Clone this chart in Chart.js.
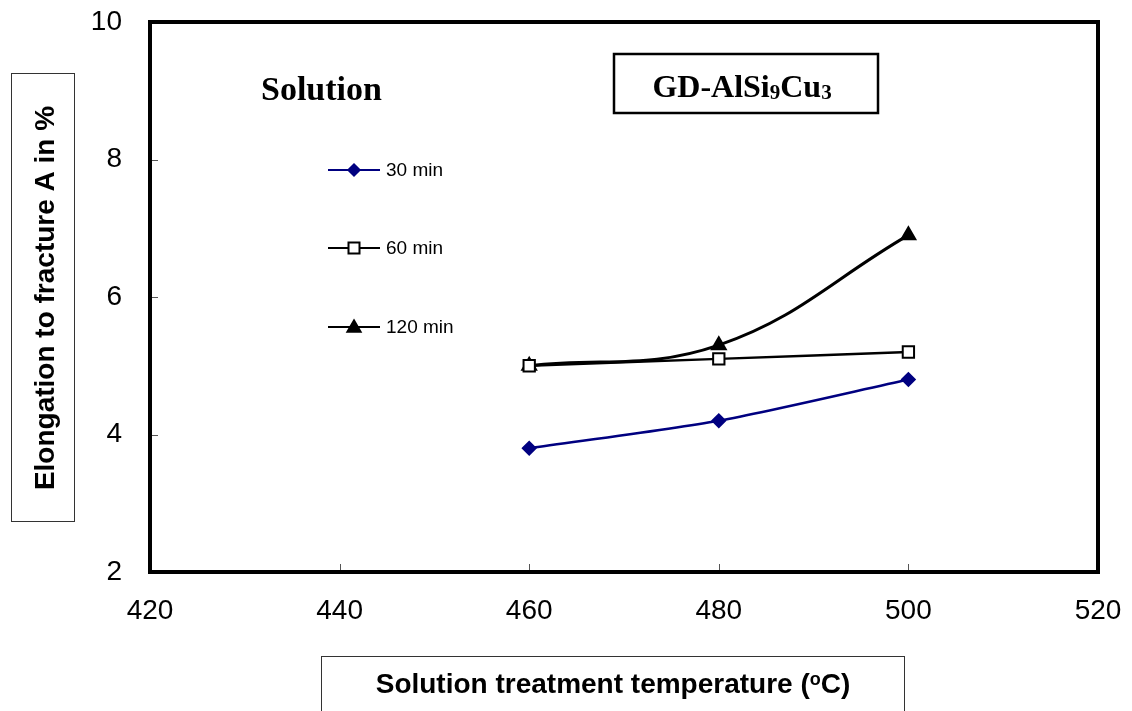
<!DOCTYPE html>
<html>
<head>
<meta charset="utf-8">
<script src="https://cdn.jsdelivr.net/npm/chart.js@4"></script>
<style>
html,body{margin:0;padding:0;background:#fff;}
canvas{display:block;}
</style>
</head>
<body>
<canvas id="c" width="1132" height="711"></canvas>
<script>
const temperatures = [460, 480, 500];
const elong30 = [3.8, 4.2, 4.8];
const elong60 = [5.0, 5.1, 5.2];
const elong120 = [5.0, 5.3, 6.9];
const xTicks = [420, 440, 460, 480, 500, 520];
const yTicks = [2, 4, 6, 8, 10];
const seriesNames = ['30 min', '60 min', '120 min'];

function pts(vals){ return temperatures.map((t,i)=>({x:t,y:vals[i]})); }

const SANS = 'Arial, "Liberation Sans", sans-serif';
const SERIF = '"Times New Roman", "Liberation Serif", serif';

const decor = {
  id:'decor',
  afterDraw(chart){
    const ctx = chart.ctx;
    const a = chart.chartArea;
    const xs = chart.scales.x, ys = chart.scales.y;
    ctx.save();
    // inner ticks
    ctx.strokeStyle = '#555';
    ctx.lineWidth = 1;
    xTicks.forEach(v=>{
      const px = Math.round(xs.getPixelForValue(v))+0.5;
      ctx.beginPath(); ctx.moveTo(px, a.bottom); ctx.lineTo(px, a.bottom-8); ctx.stroke();
    });
    yTicks.forEach(v=>{
      const py = Math.round(ys.getPixelForValue(v))+0.5;
      ctx.beginPath(); ctx.moveTo(a.left, py); ctx.lineTo(a.left+8, py); ctx.stroke();
    });
    // frame
    ctx.strokeStyle = '#000';
    ctx.lineWidth = 4;
    ctx.strokeRect(a.left, a.top, a.right-a.left, a.bottom-a.top);

    // legend
    const legY = [170, 248, 327];
    const ds = chart.data.datasets;
    ds.forEach((d,i)=>{
      const y = legY[i];
      ctx.strokeStyle = d.borderColor;
      ctx.lineWidth = 2;
      ctx.beginPath(); ctx.moveTo(328, y); ctx.lineTo(380, y); ctx.stroke();
      ctx.fillStyle = d.pointBackgroundColor;
      ctx.strokeStyle = d.pointBorderColor;
      ctx.lineWidth = 1.5;
      const cx = 354;
      if (d.pointStyle === 'rectRot') {
        ctx.beginPath(); ctx.moveTo(cx, y-6); ctx.lineTo(cx+6, y); ctx.lineTo(cx, y+6); ctx.lineTo(cx-6, y); ctx.closePath(); ctx.fill(); ctx.stroke();
      } else if (d.pointStyle === 'rect') {
        ctx.lineWidth = 2;
        ctx.beginPath(); ctx.rect(cx-5.5, y-5.5, 11, 11); ctx.fill(); ctx.stroke();
      } else {
        ctx.beginPath(); ctx.moveTo(cx, y-7); ctx.lineTo(cx+7, y+5); ctx.lineTo(cx-7, y+5); ctx.closePath(); ctx.fill(); ctx.stroke();
      }
      ctx.fillStyle = '#000';
      ctx.font = '19px ' + SANS;
      ctx.textBaseline = 'middle';
      ctx.textAlign = 'left';
      ctx.fillText(seriesNames[i], 386, y+1);
    });

    // "Solution"
    ctx.fillStyle = '#000';
    ctx.font = 'bold 34px ' + SERIF;
    ctx.textBaseline = 'alphabetic';
    ctx.textAlign = 'left';
    ctx.fillText('Solution', 261, 100);

    // GD-AlSi9Cu3 box
    ctx.lineWidth = 2.5;
    ctx.strokeStyle = '#000';
    ctx.strokeRect(614, 54, 264, 59);
    const big = 'bold 32px ' + SERIF;
    const small = 'bold 21px ' + SERIF;
    const parts = [['GD-AlSi', big, 0], ['9', small, 2], ['Cu', big, 0], ['3', small, 2]];
    let total = 0;
    parts.forEach(p=>{ ctx.font = p[1]; total += ctx.measureText(p[0]).width; });
    let x0 = 742 - total/2;
    parts.forEach(p=>{ ctx.font = p[1]; ctx.fillText(p[0], x0, 97 + p[2]); x0 += ctx.measureText(p[0]).width; });

    // Y title box
    ctx.lineWidth = 1;
    ctx.strokeStyle = '#333';
    ctx.strokeRect(11.5, 73.5, 63, 448);
    ctx.save();
    ctx.translate(46, 298);
    ctx.rotate(-Math.PI/2);
    ctx.font = 'bold 28px ' + SANS;
    ctx.textAlign = 'center';
    ctx.textBaseline = 'middle';
    ctx.fillText('Elongation to fracture A in %', 0, 0);
    ctx.restore();

    // X title box
    ctx.strokeRect(321.5, 656.5, 583, 60);
    const t1 = 'Solution treatment temperature (', t2 = 'o', t3 = 'C)';
    const fb = 'bold 28px ' + SANS, fs = 'bold 18px ' + SANS;
    ctx.font = fb;
    const w1 = ctx.measureText(t1).width, w3 = ctx.measureText(t3).width;
    ctx.font = fs;
    const w2 = ctx.measureText(t2).width;
    let sx = 613 - (w1+w2+w3)/2;
    ctx.textAlign = 'left';
    ctx.textBaseline = 'alphabetic';
    ctx.font = fb; ctx.fillText(t1, sx, 693); sx += w1;
    ctx.font = fs; ctx.fillText(t2, sx, 685); sx += w2;
    ctx.font = fb; ctx.fillText(t3, sx, 693);
    ctx.restore();
  }
};

new Chart(document.getElementById('c'), {
  type: 'line',
  data: {
    datasets: [
      { label: seriesNames[0], data: pts(elong30), borderColor: '#000080', backgroundColor:'#000080',
        pointBackgroundColor: '#000080', pointBorderColor: '#000080', pointStyle: 'rectRot', pointRadius: 6,
        borderWidth: 2.5, tension: 0.25 },
      { label: seriesNames[1], data: pts(elong60), borderColor: '#000', backgroundColor:'#fff',
        pointBackgroundColor: '#fff', pointBorderColor: '#000', pointStyle: 'rect', pointRadius: 8, pointBorderWidth: 2,
        borderWidth: 2.5, tension: 0.2 },
      { label: seriesNames[2], data: pts(elong120), borderColor: '#000', backgroundColor:'#000',
        pointBackgroundColor: '#000', pointBorderColor: '#000', pointStyle: 'triangle', pointRadius: 7,
        borderWidth: 3, tension: 0.4 }
    ]
  },
  options: {
    responsive: false,
    animation: false,
    layout: { padding: { left: 0, top: 22, right: 34, bottom: 0 } },
    plugins: { legend: { display: false }, tooltip: { enabled: false } },
    scales: {
      x: {
        type: 'linear', min: 420, max: 520,
        afterBuildTicks(s){ s.ticks = xTicks.map(v=>({value:v})); },
        afterFit(s){ s.height = 139; s.paddingLeft = 0; s.paddingRight = 0; },
        grid: { display: false, drawTicks: false },
        border: { display: false },
        ticks: { color:'#000', padding: 22, maxRotation: 0, font: { family: SANS, size: 28 } }
      },
      y: {
        type: 'linear', min: 2, max: 10,
        afterBuildTicks(s){ s.ticks = yTicks.map(v=>({value:v})); },
        afterFit(s){ s.width = 150; s.paddingTop = 0; s.paddingBottom = 0; },
        grid: { display: false, drawTicks: false },
        border: { display: false },
        ticks: { color:'#000', padding: 28, font: { family: SANS, size: 28 } }
      }
    }
  },
  plugins: [decor]
});
</script>
</body>
</html>
